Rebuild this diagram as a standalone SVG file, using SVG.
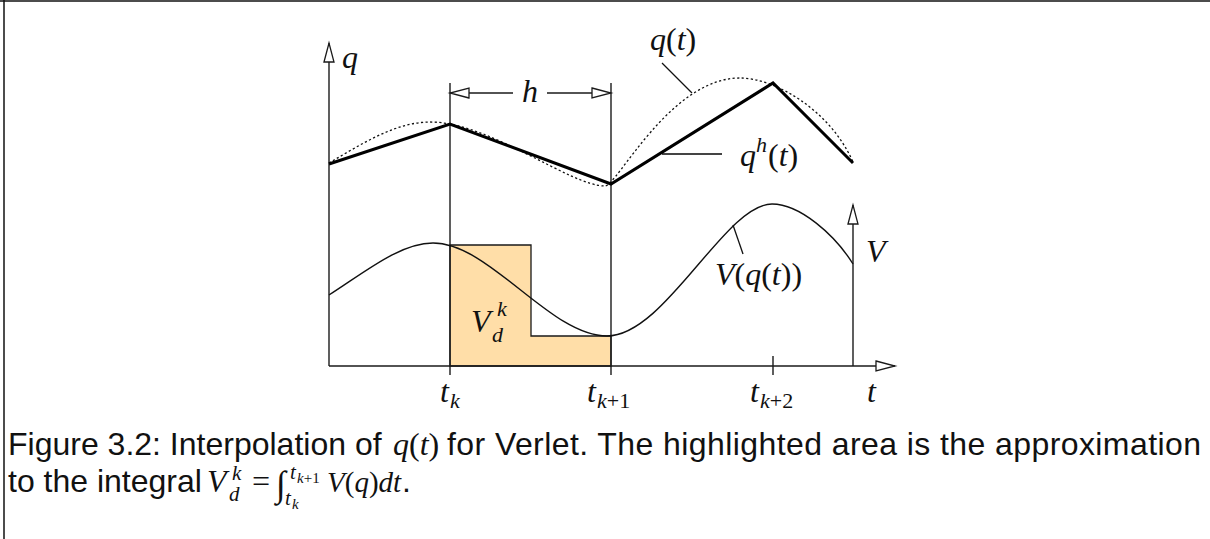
<svg xmlns="http://www.w3.org/2000/svg" width="1210" height="539" viewBox="0 0 1210 539">
  <style>
    .ln { fill: none; stroke: #1a1a1a; stroke-width: 1.4; }
    .thin { fill: none; stroke: #111; stroke-width: 1.3; }
    .m { font-family: "Liberation Serif", "DejaVu Serif", serif; font-style: italic; font-size: 32px; fill: #111; }
    .up { font-style: normal; }
    .s { font-size: 22px; }
    .cap { font-family: "Liberation Sans", Arial, sans-serif; font-size: 32px; fill: #111; }
    .cm { font-family: "Liberation Serif", "DejaVu Serif", serif; font-style: italic; font-size: 32px; fill: #111; }
    .c21 { font-size: 21px; }
    .c15 { font-size: 15px; }
    .c29 { font-size: 29px; }
    .c36 { font-size: 36px; }
  </style>
  <defs>
    <marker id="ah" markerWidth="24" markerHeight="14" refX="20" refY="6" orient="auto" markerUnits="userSpaceOnUse">
      <path d="M1,1 L20,6 L1,11 Z" fill="#fff" stroke="#1a1a1a" stroke-width="1.3"/>
    </marker>
  </defs>

  <g id="frame">
    <line x1="0" y1="1" x2="1210" y2="1" stroke="#111" stroke-width="1.5"/>
    <line x1="4" y1="0" x2="4" y2="539" stroke="#111" stroke-width="1.5"/>
  </g>

  <g id="area">
    <path d="M450,245 L531,245 L531,336 L611,336 L611,366 L450,366 Z" fill="#FFDEA8" stroke="#1a1a1a" stroke-width="1.3"/>
    <text class="m" x="471" y="332">V</text>
    <text class="m s" x="497" y="316">k</text>
    <text class="m s" x="492" y="342">d</text>
  </g>

  <g id="connectors">
    <line class="ln" x1="329" y1="366" x2="329" y2="43" marker-end="url(#ah)"/>
    <line class="ln" x1="329" y1="366" x2="895" y2="366" marker-end="url(#ah)"/>
    <line class="ln" x1="853" y1="366" x2="853" y2="205" marker-end="url(#ah)"/>
    <line class="ln" x1="450" y1="83" x2="450" y2="375"/>
    <line class="ln" x1="611" y1="83" x2="611" y2="375"/>
    <line class="ln" x1="773" y1="356" x2="773" y2="375"/>
    <line class="ln" x1="513" y1="93" x2="450" y2="93" marker-end="url(#ah)"/>
    <line class="ln" x1="547" y1="93" x2="611" y2="93" marker-end="url(#ah)"/>
    <line class="thin" x1="662" y1="63" x2="692" y2="93"/>
    <line x1="662" y1="154" x2="722" y2="154" stroke="#444" stroke-width="1.8"/>
    <line class="thin" x1="733" y1="225" x2="743" y2="254"/>
  </g>

  <g id="q-exact">
    <path d="M329,163 C360,145 395,122 430,122 C490,122 570,186 605,186 C617,186 670,78 740,78 C775,78 830,110 853,162" fill="none" stroke="#111" stroke-width="1.3" stroke-dasharray="2.2,2.4"/>
  </g>
  <g id="q-interp">
    <polyline points="329,164 450,124 611,184 773,83 853,163" fill="none" stroke="#000" stroke-width="3"/>
  </g>
  <g id="V-curve">
    <path d="M329,295 C365,272 400,243 433,243 C490,243 550,336 607,336 C665,336 725,204 772,204 C800,204 835,235 853,264" fill="none" stroke="#111" stroke-width="1.4"/>
  </g>

  <g id="labels">
    <text class="m" x="342" y="68">q</text>
    <text class="m" x="522" y="102">h</text>
    <text class="m" x="650" y="50">q<tspan class="up">(</tspan>t<tspan class="up">)</tspan></text>
    <text class="m" x="740" y="166">q</text>
    <text class="m s" x="756" y="152">h</text>
    <text class="m" x="768" y="166"><tspan class="up">(</tspan>t<tspan class="up">)</tspan></text>
    <text class="m" x="715" y="285">V<tspan class="up">(</tspan>q<tspan class="up">(</tspan>t<tspan class="up">))</tspan></text>
    <text class="m" x="866" y="262">V</text>
    <text class="m" x="440" y="402">t</text>
    <text class="m s" x="450" y="408">k</text>
    <text class="m" x="587" y="402">t</text>
    <text class="m s" x="597" y="408">k<tspan class="up">+1</tspan></text>
    <text class="m" x="750" y="402">t</text>
    <text class="m s" x="760" y="408">k<tspan class="up">+2</tspan></text>
    <text class="m" x="867" y="402">t</text>
  </g>

  <g id="caption">
    <text class="cap" x="8" y="455">Figure 3.2: Interpolation of</text>
    <text class="cm" x="393" y="455">q<tspan class="up">(</tspan>t<tspan class="up">)</tspan></text>
    <text class="cap" x="447" y="455" textLength="754" lengthAdjust="spacing">for Verlet. The highlighted area is the approximation</text>
    <text class="cap" x="8" y="492">to the integral</text>
    <text class="cm" x="207" y="492">V</text>
    <text class="cm c21" x="232" y="480">k</text>
    <text class="cm c21" x="229" y="501">d</text>
    <text class="cm up" x="250" y="492">=</text>
    <text class="cm up c36" x="276" y="496">∫</text>
    <text class="cm c21" x="290" y="479">t</text>
    <text class="cm c15" x="297" y="483">k<tspan class="up">+1</tspan></text>
    <text class="cm c21" x="285" y="505">t</text>
    <text class="cm c15" x="292" y="509">k</text>
    <text class="cm c29" x="327" y="492">V<tspan class="up">(</tspan>q<tspan class="up">)</tspan>dt</text>
    <text class="cap" x="402" y="492">.</text>
  </g>
</svg>
